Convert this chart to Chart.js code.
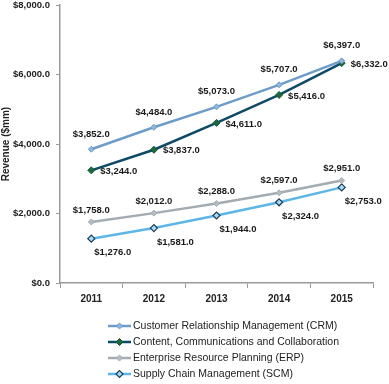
<!DOCTYPE html>
<html>
<head>
<meta charset="utf-8">
<script src="https://cdn.jsdelivr.net/npm/chart.js@4.4.1/dist/chart.umd.min.js"></script>
<style>
html,body{margin:0;padding:0;background:#fff;}
#wrap{width:389px;height:384px;}
</style>
</head>
<body>
<div id="wrap"><canvas id="c" width="389" height="384"></canvas></div>
<script>
const categories = ['2011', '2012', '2013', '2014', '2015'];
const crmValues = [3852, 4484, 5073, 5707, 6397];
const cccValues = [3244, 3837, 4611, 5416, 6332];
const erpValues = [1758, 2012, 2288, 2597, 2951];
const scmValues = [1276, 1581, 1944, 2324, 2753];
const seriesNames = [
  'Customer Relationship Management (CRM)',
  'Content, Communications and Collaboration',
  'Enterprise Resource Planning (ERP)',
  'Supply Chain Management (SCM)'
];
const yTickValues = [0, 2000, 4000, 6000, 8000];
const yAxisTitle = 'Revenue ($mm)';

const FONT = "'Liberation Sans', Arial, sans-serif";
const fmt = v => '$' + v.toLocaleString('en-US', {minimumFractionDigits: 1, maximumFractionDigits: 1});

// label placement per series: [align, dx, dy]
const labelPlace = [
  ['center', 0, -15],
  ['left', 9, 1],
  ['center', 0, -12],
  ['left', 3, 14]
];

const dataLabels = {
  id: 'dataLabels',
  afterDatasetsDraw(chart) {
    const ctx = chart.ctx;
    ctx.save();
    ctx.font = 'bold 9.5px ' + FONT;
    ctx.fillStyle = '#1a1a1a';
    ctx.textBaseline = 'middle';
    chart.data.datasets.forEach((ds, di) => {
      const meta = chart.getDatasetMeta(di);
      const p = labelPlace[di];
      ctx.textAlign = p[0];
      meta.data.forEach((pt, i) => {
        ctx.fillText(fmt(ds.data[i]), pt.x + p[1], pt.y + p[2]);
      });
    });
    ctx.restore();
  }
};

const customLegend = {
  id: 'customLegend',
  afterDraw(chart) {
    const ctx = chart.ctx;
    ctx.save();
    const x0 = 108, x1 = 131, y0 = 326, dy = 16;
    chart.data.datasets.forEach((ds, i) => {
      const y = y0 + i * dy;
      ctx.strokeStyle = ds.borderColor;
      ctx.lineWidth = ds.borderWidth;
      ctx.beginPath();
      ctx.moveTo(x0, y);
      ctx.lineTo(x1, y);
      ctx.stroke();
      ctx.fillStyle = ds.pointBackgroundColor;
      ctx.strokeStyle = ds.pointBorderColor;
      ctx.lineWidth = ds.pointBorderWidth;
      Chart.helpers.drawPoint(ctx, {pointStyle: 'rectRot', radius: ds.pointRadius, borderWidth: ds.pointBorderWidth}, (x0 + x1) / 2, y);
      ctx.fillStyle = '#222';
      ctx.font = '10.5px ' + FONT;
      ctx.textAlign = 'left';
      ctx.textBaseline = 'middle';
      ctx.fillText(ds.label, x1 + 2, y);
    });
    ctx.restore();
  }
};

new Chart(document.getElementById('c'), {
  type: 'line',
  data: {
    labels: categories,
    datasets: [
      {label: seriesNames[0], data: crmValues, borderColor: '#6d9cc9', borderWidth: 2.5,
       pointStyle: 'rectRot', pointRadius: 3, pointBackgroundColor: '#8fb6dc', pointBorderColor: '#6d9cc9', pointBorderWidth: 1},
      {label: seriesNames[1], data: cccValues, borderColor: '#0c4a68', borderWidth: 2.5,
       pointStyle: 'rectRot', pointRadius: 3.5, pointBackgroundColor: '#1d6b3d', pointBorderColor: '#145530', pointBorderWidth: 1},
      {label: seriesNames[2], data: erpValues, borderColor: '#a3abb3', borderWidth: 2.5,
       pointStyle: 'rectRot', pointRadius: 3, pointBackgroundColor: '#b5bcc3', pointBorderColor: '#a3abb3', pointBorderWidth: 1},
      {label: seriesNames[3], data: scmValues, borderColor: '#5db6e6', borderWidth: 2.5,
       pointStyle: 'rectRot', pointRadius: 3.5, pointBackgroundColor: '#a9dcf3', pointBorderColor: '#1b3d5c', pointBorderWidth: 1.2}
    ]
  },
  options: {
    responsive: false,
    animation: false,
    devicePixelRatio: 1,
    layout: {padding: {left: 0, right: 16, top: 3, bottom: 79}},
    plugins: {legend: {display: false}, tooltip: {enabled: false}},
    elements: {line: {tension: 0}},
    scales: {
      x: {
        offset: true,
        grid: {display: true, drawOnChartArea: false, drawTicks: true, tickLength: 5, color: '#9a9a9a', offset: true},
        border: {color: '#9a9a9a', width: 1.5},
        ticks: {font: {family: FONT, size: 10, weight: 'bold'}, color: '#222', padding: 5},
        afterFit: s => { s.height = 22; s.paddingLeft = 0; s.paddingRight = 0; }
      },
      y: {
        min: 0, max: 8000,
        afterBuildTicks: s => { s.ticks = yTickValues.map(v => ({value: v})); },
        grid: {display: true, drawOnChartArea: false, drawTicks: true, tickLength: 4, color: '#9a9a9a'},
        border: {color: '#9a9a9a', width: 1.5},
        ticks: {font: {family: FONT, size: 9.5, weight: 'bold'}, color: '#222', padding: 6, callback: v => fmt(v)},
        title: {display: true, text: yAxisTitle, font: {family: FONT, size: 10, weight: 'bold'}, color: '#222', padding: {top: 0, bottom: 0}},
        afterFit: s => { s.width = 60; s.paddingTop = 0; s.paddingBottom = 0; }
      }
    }
  },
  plugins: [dataLabels, customLegend]
});
</script>
</body>
</html>
